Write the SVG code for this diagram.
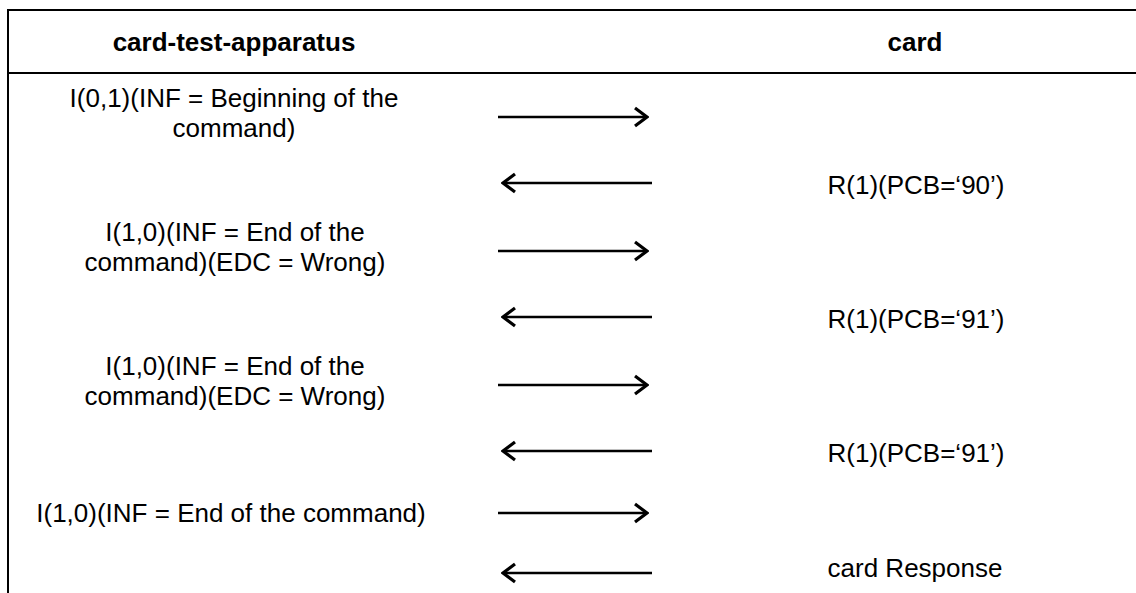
<svg xmlns="http://www.w3.org/2000/svg" width="1136" height="593" viewBox="0 0 1136 593">
<style>
.t{font-family:"Liberation Sans",Arial,sans-serif;font-size:26px;fill:#000;text-anchor:middle}
.h{font-weight:bold}
.ln{stroke:#000;stroke-width:2;fill:none}
.ar{stroke:#000;stroke-width:2.5;fill:none}
</style>
<defs>
<marker id="head" viewBox="0 0 16 22" refX="14" refY="11" markerWidth="16" markerHeight="22" markerUnits="userSpaceOnUse" orient="auto">
<path d="M2,2 L14,11 L2,20" fill="none" stroke="#000" stroke-width="3.2" stroke-linejoin="miter"/>
</marker>
</defs>
<g id="table">
<line class="ln" x1="8" y1="10" x2="1136" y2="10"/>
<line class="ln" x1="8" y1="73" x2="1136" y2="73"/>
<line class="ln" x1="8" y1="9" x2="8" y2="593"/>
</g>
<g id="header-apparatus"><text class="t h" x="234" y="51">card-test-apparatus</text></g>
<g id="header-card"><text class="t h" x="915" y="51">card</text></g>
<g id="msg1"><text class="t" x="234" y="107">I(0,1)(INF = Beginning of the</text><text class="t" x="234" y="137">command)</text></g>
<g id="msg2"><text class="t" x="916" y="194">R(1)(PCB=‘90’)</text></g>
<g id="msg3"><text class="t" x="235" y="241">I(1,0)(INF = End of the</text><text class="t" x="235" y="271">command)(EDC = Wrong)</text></g>
<g id="msg4"><text class="t" x="916" y="328">R(1)(PCB=‘91’)</text></g>
<g id="msg5"><text class="t" x="235" y="375">I(1,0)(INF = End of the</text><text class="t" x="235" y="405">command)(EDC = Wrong)</text></g>
<g id="msg6"><text class="t" x="916" y="462">R(1)(PCB=‘91’)</text></g>
<g id="msg7"><text class="t" x="231" y="522">I(1,0)(INF = End of the command)</text></g>
<g id="msg8"><text class="t" x="915" y="577">card Response</text></g>
<g id="connectors">
<line class="ar" x1="498" y1="117" x2="647" y2="117" marker-end="url(#head)"/>
<line class="ar" x1="652" y1="183" x2="503" y2="183" marker-end="url(#head)"/>
<line class="ar" x1="498" y1="251" x2="647" y2="251" marker-end="url(#head)"/>
<line class="ar" x1="652" y1="317" x2="503" y2="317" marker-end="url(#head)"/>
<line class="ar" x1="498" y1="385" x2="647" y2="385" marker-end="url(#head)"/>
<line class="ar" x1="652" y1="451" x2="503" y2="451" marker-end="url(#head)"/>
<line class="ar" x1="498" y1="513" x2="647" y2="513" marker-end="url(#head)"/>
<line class="ar" x1="652" y1="573" x2="503" y2="573" marker-end="url(#head)"/>
</g>
</svg>
